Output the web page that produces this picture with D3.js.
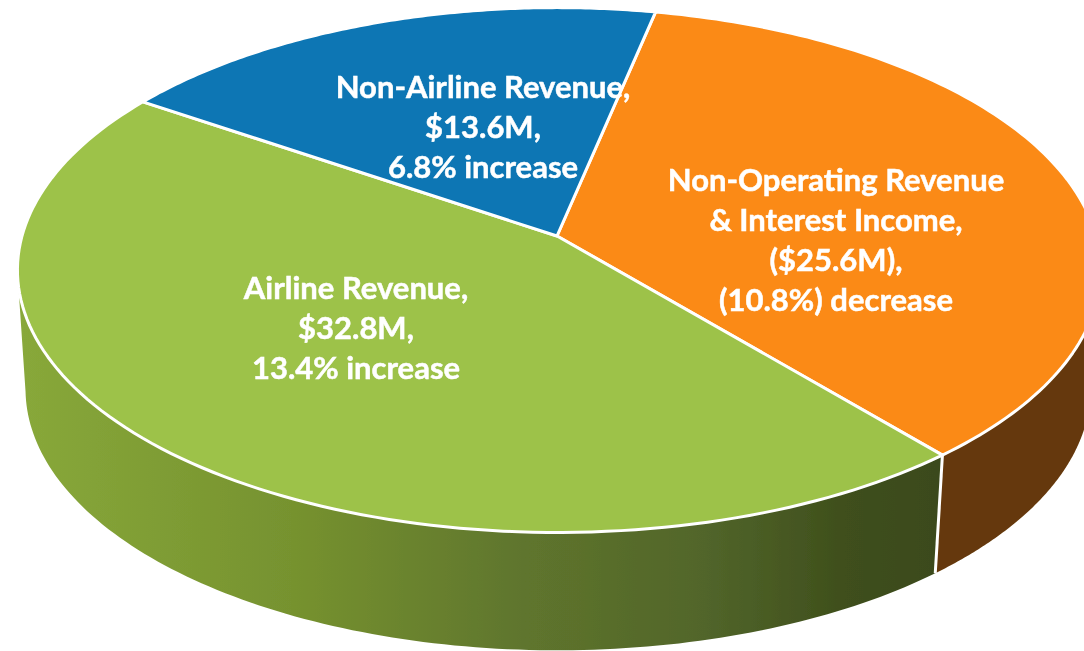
<!DOCTYPE html>
<html><head><meta charset="utf-8">
<script src="https://cdn.jsdelivr.net/npm/d3@7/dist/d3.min.js"></script>
<style>html,body{margin:0;padding:0;background:#fff;overflow:hidden}svg{display:block}</style>
</head><body><svg id="c" width="1084" height="651"></svg>
<script>
const categories = ["Non-Operating Revenue & Interest Income", "Airline Revenue", "Non-Airline Revenue"];
const values = [25.6, 32.8, 13.6];
const topColors = ["#fb8a16", "#9dc249", "#0b76b4"];
const labelLines = [
  ["Non-Operating Revenue", "& Interest Income,", "($25.6M),", "(10.8%) decrease"],
  ["Airline Revenue,", "$32.8M,", "13.4% increase"],
  ["Non-Airline Revenue,", "$13.6M,", "6.8% increase"]
];
const labelCenters = [[836, 240], [356, 328], [483, 127]];
const lineGap = 40;
const deg = Math.PI / 180;

const svg = d3.select("#c");
const defs = svg.append("defs");
const grad = defs.append("linearGradient").attr("id", "greenSide")
  .attr("gradientUnits", "userSpaceOnUse").attr("x1", 20).attr("x2", 935).attr("y1", 0).attr("y2", 0);
[[0, "#88a83a"], [0.3, "#76922f"], [0.55, "#5f752d"], [0.75, "#51652a"], [0.9, "#3f4f1c"], [1, "#3b4a1a"]]
  .forEach(([o, c]) => grad.append("stop").attr("offset", o).attr("stop-color", c));
defs.append("filter").attr("id", "soft").attr("x", "-5%").attr("y", "-5%").attr("width", "110%").attr("height", "110%")
  .append("feGaussianBlur").attr("stdDeviation", 0.5);

// perspective projection of the unit disc
const k = 0.1297;
function projector(cx, cy, A1, A2, B) {
  const sx = d3.scaleLinear().domain([-1, 0, 1]).range([cx - A1, cx, cx + A2]);
  const sy = d3.scaleLinear().domain([-1, 1]).range([cy - B, cy + B]);
  return (a, r = 1) => {
    const u = r * Math.sin(a), v = -r * Math.cos(a), w = 1 - k * v;
    return [sx(u / w), sy(v / w)];
  };
}
const topP = projector(557, 236, 535, 539, 258);
const botP = projector(557, 355, 527, 529, 257);

const start = 11.9 * deg;
const arcs = d3.pie().sort(null).value(d => d)
  .startAngle(start).endAngle(start + 2 * Math.PI)(values);

const line = d3.line();
const sweep = (p, a0, a1) => d3.range(0, 121).map(i => p(a0 + (a1 - a0) * i / 120));
const g = svg.append("g").attr("filter", "url(#soft)");

// sides
const leftEdge = 262 * deg, rightEdge = 97.5 * deg;
const sideOrange = [...sweep(topP, rightEdge, arcs[0].endAngle), ...sweep(botP, arcs[0].endAngle, rightEdge)];
const sideGreen = [...sweep(topP, arcs[1].startAngle, leftEdge), ...sweep(botP, leftEdge, arcs[1].startAngle)];
g.append("path").attr("d", line(sideGreen) + "Z").attr("fill", "url(#greenSide)");
g.append("path").attr("d", line(sideOrange) + "Z").attr("fill", "#653909");
g.append("path").attr("d", line([topP(arcs[0].endAngle), botP(arcs[0].endAngle)]))
  .attr("stroke", "#fff").attr("stroke-width", 3).attr("fill", "none");

// top slices
g.selectAll("path.slice").data(arcs).join("path").attr("class", "slice")
  .attr("d", d => line([topP(0, 0), ...sweep(topP, d.startAngle, d.endAngle)]) + "Z")
  .attr("fill", (d, i) => topColors[i])
  .attr("stroke", "#fff").attr("stroke-width", 3).attr("stroke-linejoin", "round");

// labels
const t = g.append("g").attr("font-family", "Lato, 'Open Sans', sans-serif")
  .attr("font-weight", 700).attr("font-size", 31).attr("fill", "#fff")
  .attr("stroke", "#fff").attr("stroke-width", 0.5).attr("text-anchor", "middle");
labelLines.forEach((lines, i) => {
  const [x, y] = labelCenters[i];
  t.selectAll(null).data(lines).join("text")
    .attr("x", x)
    .attr("y", (d, j) => y + (j - (lines.length - 1) / 2) * lineGap + 10.5)
    .text(d => d);
});
</script></body></html>
